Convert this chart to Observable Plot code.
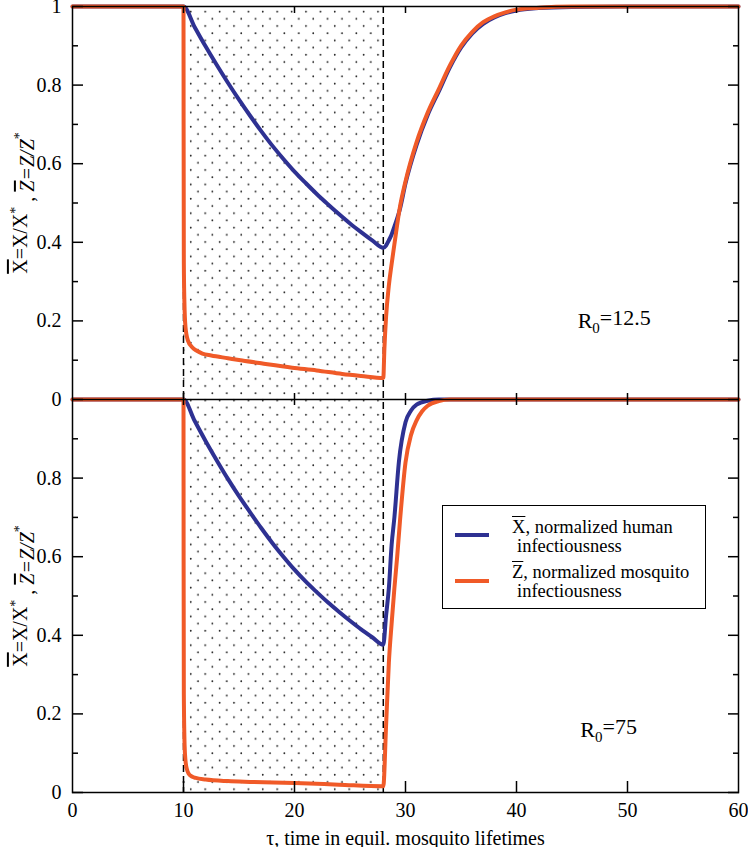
<!DOCTYPE html>
<html>
<head>
<meta charset="utf-8">
<script src="https://cdn.jsdelivr.net/npm/d3@7"></script>
<script src="https://cdn.jsdelivr.net/npm/@observablehq/plot@0.6"></script>
<style>
  body { margin: 0; background: #fff; }
  #wrap { position: relative; width: 748px; height: 847px; font-family: "Liberation Serif", "Times New Roman", serif; }
  #legend { position: absolute; left: 442px; top: 505px; width: 264px; height: 104px; box-sizing: border-box;
            border: 1.5px solid #000; background: #fff; font-size: 18.5px; color: #000; }
  #legend .sw { position: absolute; left: 12px; width: 34px; height: 4px; }
  #legend .txt { position: absolute; left: 69px; line-height: 19px; white-space: nowrap; }
  #legend .ol { text-decoration: overline; }
  #legend .ind { padding-left: 5px; }
</style>
</head>
<body>
<div id="wrap"></div>
<script>
// ---------- data ----------
// Top panel, R0 = 12.5
const topXt = [0, 10, 11, 12, 13, 14, 15, 16, 17, 18, 19, 20, 21, 22, 23, 24, 25, 26, 27, 28, 28.25, 28.5, 28.75, 29, 29.5, 30, 31, 32, 33, 34, 35, 36, 37, 38, 39, 40, 42, 45, 50, 60];
const topXv = [1, 1, 0.948, 0.898, 0.851, 0.806, 0.763, 0.722, 0.683, 0.646, 0.612, 0.58, 0.551, 0.523, 0.497, 0.472, 0.448, 0.426, 0.405, 0.386, 0.392, 0.405, 0.42, 0.44, 0.485, 0.55, 0.648, 0.724, 0.784, 0.845, 0.895, 0.931, 0.956, 0.972, 0.983, 0.99, 0.996, 0.999, 1, 1];
const topZt = [0, 10, 10.01, 10.03, 10.08, 10.18, 10.4, 10.78, 11.2, 11.7, 12.5, 14, 15.3, 17, 19.8, 22, 24.3, 26, 28, 28.1, 28.25, 28.5, 28.75, 29, 29.5, 30, 31, 32, 33, 34, 35, 36, 37, 38, 39, 40, 42, 45, 50, 60];
const topZv = [1, 1, 0.7, 0.35, 0.25, 0.184, 0.15, 0.133, 0.124, 0.117, 0.112, 0.105, 0.099, 0.092, 0.081, 0.074, 0.065, 0.06, 0.055, 0.13, 0.21, 0.29, 0.345, 0.395, 0.49, 0.555, 0.655, 0.73, 0.79, 0.85, 0.9, 0.935, 0.96, 0.975, 0.985, 0.992, 0.997, 1, 1, 1];
// Bottom panel, R0 = 75
const botXt = [0, 10, 11, 12, 13, 14, 15, 16, 17, 18, 19, 20, 21, 22, 23, 24, 25, 26, 27, 28, 28.25, 28.5, 28.75, 29, 29.4, 30, 30.5, 31, 32, 33, 60];
const botXv = [1, 1, 0.946, 0.894, 0.845, 0.798, 0.754, 0.713, 0.673, 0.635, 0.6, 0.567, 0.537, 0.51, 0.484, 0.46, 0.437, 0.415, 0.395, 0.376, 0.45, 0.52, 0.63, 0.7, 0.84, 0.942, 0.972, 0.987, 0.997, 1, 1];
const botZt = [0, 10, 10.01, 10.03, 10.1, 10.18, 10.3, 10.48, 10.8, 11.1, 12, 14, 16, 20, 24, 28, 28.25, 28.5, 28.75, 29, 29.25, 29.5, 30, 30.5, 31, 31.5, 32, 33, 34, 60];
const botZv = [1, 1, 0.6, 0.25, 0.12, 0.081, 0.06, 0.047, 0.04, 0.037, 0.033, 0.029, 0.027, 0.024, 0.02, 0.016, 0.17, 0.33, 0.43, 0.52, 0.6, 0.69, 0.84, 0.91, 0.947, 0.97, 0.984, 0.996, 1, 1];

const panelOffset = [1, 0];               // top panel stacked above bottom panel
const shadeStart = [10];
const shadeEnd = [28];
const xTicks = [10, 20, 30, 40, 50];
const xTickLabels = [0, 10, 20, 30, 40, 50, 60];
const yMajorTicks = [0, 0.2, 0.4, 0.6, 0.8, 1, 1.2, 1.4, 1.6, 1.8, 2];
const yMinorTicks = [0.1, 0.3, 0.5, 0.7, 0.9, 1.1, 1.3, 1.5, 1.7, 1.9];
const panelCenters = [1.5, 0.5];
const r0Text = ["R0=12.5", "R0=75"];
const r0X = [48.8, 48.3];
const r0Y = [1.201, 0.16];
const xLabel = "τ, time in equil. mosquito lifetimes";
const legendLines = [["X", ", normalized human", "infectiousness"], ["Z", ", normalized mosquito", "infectiousness"]];
const colors = ["#2e3192", "#f05a28"];

// ---------- build tables ----------
function series(ts, vs, off, s) { return ts.map((t, i) => ({t, y: vs[i] + off, s, panel: off})); }
const blueData = [...series(topXt, topXv, panelOffset[0], "X"), ...series(botXt, botXv, panelOffset[1], "X")];
const orangeData = [...series(topZt, topZv, panelOffset[0], "Z"), ...series(botZt, botZv, panelOffset[1], "Z")];
const shade = shadeStart.map((s, i) => ({start: s, end: shadeEnd[i]}));
const r0 = r0Text.map((txt, i) => ({txt, x: r0X[i], y: r0Y[i]}));
const fmtY = d => { const v = d >= 1 - 1e-9 ? d - 1 : d; return String(+v.toFixed(1)); };

const font = '"Liberation Serif", "Times New Roman", serif';
const ink = "#000";

const chart = Plot.plot({
  width: 748, height: 847,
  marginLeft: 72, marginRight: 10, marginTop: 6, marginBottom: 55,
  style: {fontFamily: font, fontSize: "20px", color: ink, background: "#fff", overflow: "visible"},
  x: {domain: [0, 60]},
  y: {domain: [0, 2]},
  marks: [
    Plot.rect(shade, {x1: "start", x2: "end", fill: "url(#dots)"}),
    Plot.ruleX([...shadeStart, ...shadeEnd], {stroke: ink, strokeWidth: 1.5, strokeDasharray: "7,4"}),
    Plot.line(blueData, {x: "t", y: "y", z: "panel", stroke: colors[0], strokeWidth: 4, curve: "monotone-x"}),
    Plot.line(orangeData, {x: "t", y: "y", z: "panel", stroke: colors[1], strokeWidth: 4, curve: "monotone-x"}),
    Plot.frame({stroke: ink, strokeWidth: 1.5}),
    Plot.ruleY([panelOffset[0]], {stroke: ink, strokeWidth: 1.5}),
    Plot.ruleX(xTicks, {y1: panelOffset[0], y2: panelOffset[0], insetTop: -6, insetBottom: -6, stroke: ink, strokeWidth: 1.5}),
    Plot.axisY(yMajorTicks, {anchor: "left", tickSize: 0, tickPadding: 11, tickFormat: fmtY, label: null}),
    Plot.axisY(yMajorTicks, {anchor: "left", tickSize: -11, fill: "none", strokeWidth: 1.5, label: null}),
    Plot.axisY(yMinorTicks, {anchor: "left", tickSize: -6, fill: "none", strokeWidth: 1.5, label: null}),
    Plot.axisY(yMajorTicks, {anchor: "right", tickSize: -11, fill: "none", strokeWidth: 1.5, label: null}),
    Plot.axisY(yMinorTicks, {anchor: "right", tickSize: -6, fill: "none", strokeWidth: 1.5, label: null}),
    Plot.axisX(xTickLabels, {anchor: "bottom", tickSize: 0, tickPadding: 10, label: xLabel, labelArrow: "none", labelAnchor: "center", labelOffset: 52}),
    Plot.axisX(xTicks, {anchor: "bottom", tickSize: -11, fill: "none", strokeWidth: 1.5, label: null}),
    Plot.axisX(xTicks, {anchor: "top", tickSize: -6, fill: "none", strokeWidth: 1.5, label: null}),
    Plot.text(panelCenters, {x: 0, y: d => d, text: () => "YLABEL", dx: -52, rotate: -90, fill: ink, fontSize: 20}),
    Plot.text(r0, {x: "x", y: "y", text: "txt", fill: ink, fontSize: 22})
  ]
});

// dotted fill pattern for the shaded interval
const svg = d3.select(chart);
const defs = svg.insert("defs", ":first-child");
const pat = defs.append("pattern").attr("id", "dots").attr("patternUnits", "userSpaceOnUse")
  .attr("width", 14.4).attr("height", 14.4).attr("x", 0).attr("y", 8);
pat.append("rect").attr("width", 14.4).attr("height", 14.4).attr("fill", "#fff");
pat.append("circle").attr("cx", 3.6).attr("cy", 3.6).attr("r", 0.85).attr("fill", "#111");
pat.append("circle").attr("cx", 10.8).attr("cy", 10.8).attr("r", 0.85).attr("fill", "#111");

// rich text: overlines, superscripts, subscripts
svg.selectAll("text").each(function () {
  const el = d3.select(this);
  const t = this.textContent;
  if (t === "YLABEL") {
    el.text("");
    el.append("tspan").style("text-decoration", "overline").text("X");
    el.append("tspan").text("=X/X");
    el.append("tspan").attr("dy", "-0.5em").attr("font-size", "14px").text("*");
    el.append("tspan").attr("dy", "0.7em").text(" , ");
    el.append("tspan").attr("font-style", "italic").style("text-decoration", "overline").text("Z");
    el.append("tspan").attr("font-style", "italic").text("=Z/Z");
    el.append("tspan").attr("dy", "-0.7em").attr("font-size", "14px").text("*");
  } else if (t.startsWith("R0=")) {
    el.text("");
    el.append("tspan").text("R");
    el.append("tspan").attr("dy", "0.35em").attr("font-size", "15px").text("0");
    el.append("tspan").attr("dy", "-0.35em").text(t.slice(2));
  }
});

const wrap = document.getElementById("wrap");
wrap.appendChild(chart);

// legend
const legend = document.createElement("div");
legend.id = "legend";
const swTops = [27, 73];
const txtTops = [12, 57];
legendLines.forEach((ln, i) => {
  const sw = document.createElement("div");
  sw.className = "sw"; sw.style.top = swTops[i] + "px"; sw.style.background = colors[i];
  legend.appendChild(sw);
  const tx = document.createElement("div");
  tx.className = "txt"; tx.style.top = txtTops[i] + "px";
  tx.innerHTML = `<span class="ol">${ln[0]}</span>${ln[1]}<br><span class="ind">${ln[2]}</span>`;
  legend.appendChild(tx);
});
wrap.appendChild(legend);
</script>
</body>
</html>
